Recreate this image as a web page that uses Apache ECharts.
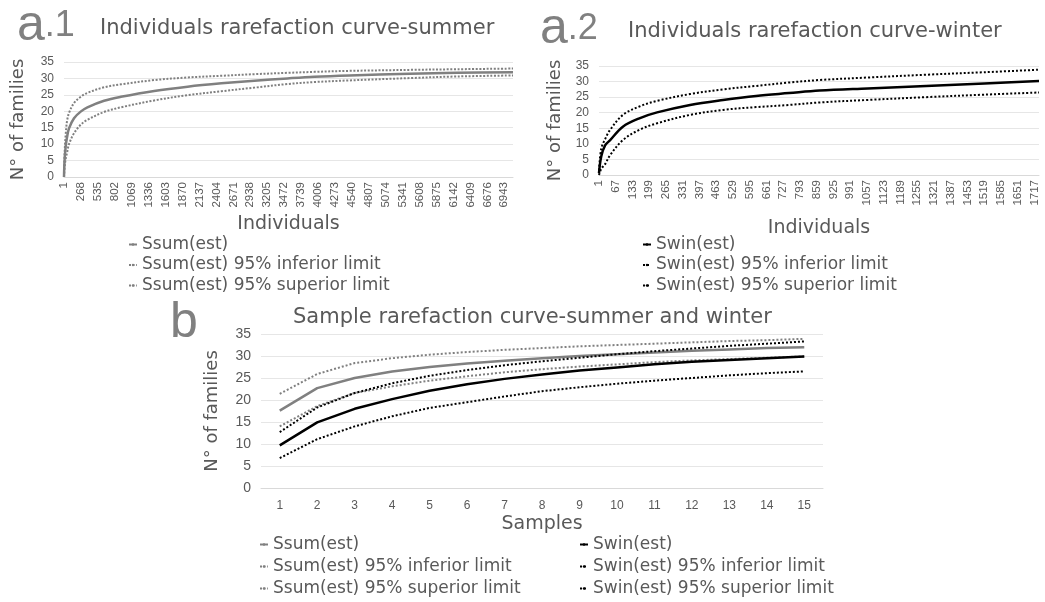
<!DOCTYPE html>
<html>
<head>
<meta charset="utf-8">
<script src="https://cdn.jsdelivr.net/npm/echarts@6/dist/echarts.min.js"></script>
<style>
  body { margin: 0; padding: 0; background: #fff; }
  #main { width: 1045px; height: 602px; }
</style>
</head>
<body>
<div id="main"></div>
<script>
// a.1 individuals rarefaction - summer
var summerInd = [1, 10, 28, 48, 80, 159, 264, 370, 633, 897, 1423, 1950, 2482, 3003, 3525, 3950, 4500, 5450, 6200, 7080];
var summerEst = [0, 5, 9.3, 12, 14.8, 17.9, 19.9, 21.2, 23.2, 24.4, 26.2, 27.5, 28.5, 29.3, 30, 30.5, 30.9, 31.4, 31.7, 31.9];
var summerSup = [0, 7, 13, 16.9, 19.5, 22.5, 24.4, 25.6, 27.3, 28.2, 29.5, 30.3, 30.8, 31.3, 31.7, 32, 32.3, 32.6, 32.8, 33];
var summerInf = [0, 3, 5.5, 7.3, 10, 13.3, 15.9, 17.4, 19.8, 21.2, 23.3, 24.9, 26.1, 27.2, 28.3, 28.9, 29.4, 30.1, 30.6, 30.9];

// a.2 individuals rarefaction - winter
var winterInd = [1, 10, 25, 45, 95, 160, 230, 360, 490, 620, 750, 870, 1060, 1290, 1520, 1735];
var winterEst = [0.6, 6, 9.5, 11.2, 15.5, 18.2, 20.1, 22.5, 24.1, 25.4, 26.3, 27.1, 27.8, 28.6, 29.4, 30.2];
var winterSup = [1.5, 8.5, 11.5, 14.5, 19.3, 22, 23.8, 26, 27.5, 28.6, 29.7, 30.5, 31.3, 32.2, 33, 33.8];
var winterInf = [0, 2, 3.5, 6.4, 11.2, 14.5, 16.6, 19.3, 20.9, 21.8, 22.5, 23.3, 24.1, 25, 25.8, 26.5];

// b sample rarefaction - summer and winter
var samples = ['1', '2', '3', '4', '5', '6', '7', '8', '9', '10', '11', '12', '13', '14', '15'];
var ssumEst = [17.6, 22.7, 25, 26.5, 27.5, 28.3, 28.9, 29.5, 30, 30.4, 30.8, 31.2, 31.5, 31.8, 32];
var ssumInf = [14, 18.6, 21.6, 23.1, 24.4, 25.4, 26.3, 27, 27.6, 28.1, 28.6, 29, 29.3, 29.6, 29.9];
var ssumSup = [21.4, 25.9, 28.4, 29.5, 30.3, 30.9, 31.4, 31.8, 32.2, 32.5, 32.8, 33.1, 33.4, 33.6, 33.9];
var swinEst = [9.7, 14.9, 18, 20.2, 22.1, 23.6, 24.8, 25.8, 26.7, 27.4, 28.1, 28.7, 29.1, 29.5, 29.9];
var swinInf = [6.8, 11.1, 14, 16.3, 18.2, 19.5, 20.8, 22, 22.9, 23.7, 24.4, 25, 25.6, 26.1, 26.5];
var swinSup = [12.7, 18.3, 21.6, 23.8, 25.5, 26.8, 27.9, 28.8, 29.6, 30.4, 31.1, 31.7, 32.3, 32.8, 33.3];

var FONT = 'DejaVu Sans';
var NUM = 'Liberation Sans';
var TXT = '#595959';
var GRAY = '#808080';
var GRID = '#e6e6e6';

function pairs(xs, ys) {
  return xs.map(function (x, i) { return [x, ys[i]]; });
}

function yAxis(idx, gap, labelSize) {
  return {
    type: 'value', gridIndex: idx, min: 0, max: 35, interval: 5,
    name: 'N° of families', nameLocation: 'middle', nameGap: gap,
    nameTextStyle: { fontFamily: FONT, fontSize: 18, color: TXT },
    axisLine: { show: false }, axisTick: { show: false },
    axisLabel: { fontFamily: NUM, fontSize: labelSize, color: TXT, margin: 10 },
    splitLine: { lineStyle: { color: GRID, width: 1 } }
  };
}

function indAxis(idx, max, step, gap) {
  return {
    type: 'value', gridIndex: idx, min: 1, max: max, interval: step,
    name: 'Individuals', nameLocation: 'middle', nameGap: gap,
    nameTextStyle: { fontFamily: FONT, fontSize: 19, color: TXT },
    axisLine: { lineStyle: { color: '#d9d9d9' } }, axisTick: { show: false },
    axisLabel: { rotate: 90, fontFamily: NUM, fontSize: 11.5, color: TXT, margin: 5, showMaxLabel: false,
      formatter: function (v) { return String(v); } },
    splitLine: { show: false }
  };
}

function line(name, x, y, color, width, dash, xi) {
  return {
    name: name, type: 'line', xAxisIndex: xi, yAxisIndex: xi,
    data: x ? pairs(x, y) : y,
    smooth: x ? 0.35 : false, symbol: 'none', silent: true,
    lineStyle: { color: color, width: width, type: dash, cap: 'butt' },
    itemStyle: { color: color }
  };
}

function legend(left, top, gap, names) {
  return {
    orient: 'vertical', left: left, top: top, padding: 0, itemWidth: 8, itemHeight: 3, itemGap: gap,
    textStyle: { fontFamily: FONT, fontSize: 17, color: TXT }, data: names
  };
}

var sumNames = ['Ssum(est)', 'Ssum(est) 95% inferior limit', 'Ssum(est) 95% superior limit'];
var winNames = ['Swin(est)', 'Swin(est) 95% inferior limit', 'Swin(est) 95% superior limit'];
var titleStyle = { fontFamily: FONT, fontSize: 21, fontWeight: 'normal', color: TXT };
var bigRich = {
  a: { fontFamily: NUM, fontSize: 50, fill: GRAY },
  n: { fontFamily: NUM, fontSize: 36, fill: GRAY }
};

var chart = echarts.init(document.getElementById('main'));

var option = {
  backgroundColor: '#fff',
  animation: false,
  title: [
    { text: 'Individuals rarefaction curve-summer', left: 100, top: 18, padding: 0, textStyle: titleStyle },
    { text: 'Individuals rarefaction curve-winter', left: 628, top: 21, padding: 0, textStyle: titleStyle },
    { text: 'Sample rarefaction curve-summer and winter', left: 293, top: 307, padding: 0, textStyle: titleStyle }
  ],
  graphic: [
    { type: 'text', left: 17, top: 1, style: { text: '{a|a}{n|.1}', rich: bigRich } },
    { type: 'text', left: 540, top: 4, style: { text: '{a|a}{n|.2}', rich: bigRich } },
    { type: 'text', left: 170, top: 298, style: { text: 'b', fontFamily: NUM, fontSize: 50, fill: GRAY } }
  ],
  legend: [
    legend(128, 236, 3.5, sumNames),
    legend(642, 236, 3.5, winNames),
    legend(259, 536, 5, sumNames),
    legend(579, 536, 5, winNames)
  ],
  grid: [
    { left: 64, top: 62, width: 449, height: 115 },
    { left: 599, top: 66, width: 440, height: 109 },
    { left: 261, top: 334, width: 562, height: 154 }
  ],
  xAxis: [
    indAxis(0, 7080, 267, 38),
    indAxis(1, 1735, 66, 44),
    { type: 'category', gridIndex: 2, data: samples, boundaryGap: true,
      name: 'Samples', nameLocation: 'middle', nameGap: 27,
      nameTextStyle: { fontFamily: FONT, fontSize: 19, color: TXT },
      axisLine: { lineStyle: { color: '#d9d9d9' } }, axisTick: { show: false },
      axisLabel: { fontFamily: NUM, fontSize: 12, color: TXT, margin: 12 },
      splitLine: { show: false } }
  ],
  yAxis: [
    yAxis(0, 37, 12),
    yAxis(1, 35, 12),
    yAxis(2, 40, 14)
  ],
  series: [
    line('Ssum(est) 95% superior limit', summerInd, summerSup, GRAY, 2, [2, 1.6], 0),
    line('Ssum(est) 95% inferior limit', summerInd, summerInf, GRAY, 2, [2, 1.6], 0),
    line('Ssum(est)', summerInd, summerEst, GRAY, 2.5, 'solid', 0),

    line('Swin(est) 95% superior limit', winterInd, winterSup, '#000', 2, [2, 2], 1),
    line('Swin(est) 95% inferior limit', winterInd, winterInf, '#000', 2, [2, 2], 1),
    line('Swin(est)', winterInd, winterEst, '#000', 2.5, 'solid', 1),

    line('Ssum(est) 95% superior limit', null, ssumSup, GRAY, 2, [2, 2], 2),
    line('Ssum(est) 95% inferior limit', null, ssumInf, GRAY, 2, [2, 2], 2),
    line('Ssum(est)', null, ssumEst, GRAY, 2.5, 'solid', 2),
    line('Swin(est) 95% superior limit', null, swinSup, '#000', 2, [2, 2], 2),
    line('Swin(est) 95% inferior limit', null, swinInf, '#000', 2, [2, 2], 2),
    line('Swin(est)', null, swinEst, '#000', 2.5, 'solid', 2)
  ]
};

option && chart.setOption(option);
</script>
</body>
</html>
